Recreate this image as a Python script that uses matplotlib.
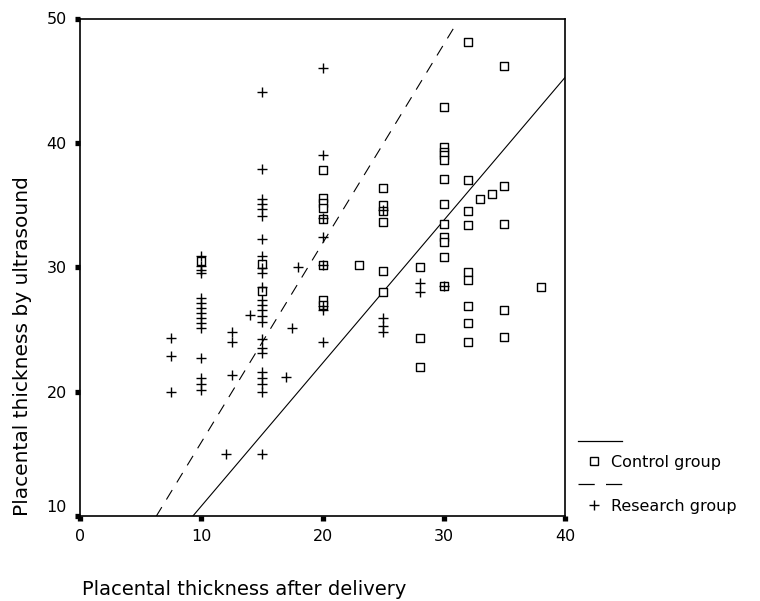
import numpy as np
import matplotlib
matplotlib.use("Agg")
import matplotlib.pyplot as plt
from matplotlib.lines import Line2D
from matplotlib.transforms import ScaledTranslation

plt.rcParams["font.family"] = ["DejaVu Sans"]

# Control group (squares)
control_x = [10, 15, 15,
             20, 20, 20, 20, 20, 20, 20, 20,
             23,
             25, 25, 25, 25, 25, 25,
             28, 28, 28,
             30, 30, 30, 30, 30, 30, 30, 30, 30, 30, 30, 30,
             32, 32, 32, 32, 32, 32, 32, 32, 32,
             33, 34,
             35, 35, 35, 35, 35,
             38]
control_y = [30.5, 30.3, 28.1,
             37.8, 35.6, 35.2, 34.8, 33.9, 30.2, 27.4, 27.0,
             30.2,
             36.4, 35.0, 34.5, 33.6, 29.7, 28.0,
             30.0, 24.3, 22.0,
             42.9, 39.7, 39.3, 39.0, 38.6, 37.1, 35.1, 33.5, 32.4, 32.0, 30.8, 28.5,
             48.1, 37.0, 34.5, 33.4, 29.6, 29.0, 26.9, 25.5, 24.0,
             35.5, 35.9,
             46.2, 36.5, 33.5, 26.6, 24.4,
             28.4]

# Research group (plus signs)
research_x = [7.5, 7.5, 7.5,
              10, 10, 10, 10, 10, 10, 10, 10, 10, 10, 10, 10, 10, 10, 10,
              12,
              12.5, 12.5, 12.5,
              14,
              15, 15, 15, 15, 15, 15, 15, 15, 15, 15, 15, 15, 15, 15, 15, 15,
              15, 15, 15, 15, 15, 15, 15, 15,
              17, 17.5, 18,
              20, 20, 20, 20, 20, 20, 20, 20,
              25, 25, 25, 25,
              28, 28,
              30]
research_y = [24.3, 22.9, 20.0,
              30.9, 30.1, 29.8, 29.5, 27.5, 27.1, 26.7, 26.3, 25.9, 25.5, 25.1, 22.7, 21.1, 20.6, 20.1,
              15.0,
              24.8, 24.0, 21.3,
              26.2,
              44.1, 37.9, 35.5, 35.1, 34.7, 34.1, 32.3, 30.9, 29.9, 29.5, 28.4, 27.4, 27.0, 26.6, 26.1, 25.6,
              24.2, 23.5, 23.1, 21.6, 21.1, 20.6, 20.0, 15.0,
              21.2, 25.1, 30.0,
              46.0, 39.0, 34.0, 32.4, 30.2, 26.9, 26.6, 24.0,
              34.6, 25.9, 25.3, 24.8,
              28.7, 28.0,
              28.5]

# fit lines (intercept, slope, x range drawn)
control_fit = (-0.70, 1.149, 0, 40)
research_fit = (-0.08, 1.600, 0, 30.8)

x_ticks = [0, 10, 20, 30, 40]
y_ticks = [10, 20, 30, 40, 50]

W, H = 760, 601
fig = plt.figure(figsize=(W / 100, H / 100), dpi=100)
ax = fig.add_axes([80 / W, 1 - 516 / H, 485 / W, 497.5 / H])

ax.scatter(control_x, control_y, marker="s", s=26, facecolors="white",
           edgecolors="black", linewidths=1.0, zorder=3)
ax.scatter(research_x, research_y, marker="+", s=55, c="black",
           linewidths=1.0, zorder=3)

xc = np.array(control_fit[2:])
ax.plot(xc, control_fit[0] + control_fit[1] * xc, color="black", lw=0.8)
xr = np.array(research_fit[2:])
ax.plot(xr, research_fit[0] + research_fit[1] * xr, color="black", lw=0.8,
        linestyle=(0, (10, 8)))

ax.set_xlim(0, 40)
ax.set_ylim(10, 50)
ax.set_xticks(x_ticks)
ax.set_yticks(y_ticks)
for sp in ax.spines.values():
    sp.set_linewidth(1.2)
ax.tick_params(direction="out", length=3.5, width=3.8, color="black",
               labelsize=11.5, pad=6)

# the lowest y label sits a little above its tick
fig.canvas.draw()
ax.get_yticklabels()[0].set_transform(
    ax.get_yticklabels()[0].get_transform()
    + ScaledTranslation(0, 10 / 100, fig.dpi_scale_trans))

ax.set_xlabel("Placental thickness after delivery", fontsize=14, loc="left")
ax.xaxis.set_label_coords(0.004, -0.128)
ax.set_ylabel("Placental thickness by ultrasound", fontsize=14.5, loc="bottom")
ax.yaxis.set_label_coords(-0.098, 0.0)

# legend, laid out like the original (line on one row, symbol + name below)
def px(x, y):
    return x / W, 1 - y / H

lx0, lx1 = 578, 622
fig.add_artist(Line2D([lx0 / W, lx1 / W], [1 - 440.5 / H] * 2,
                      color="black", lw=0.9))
fig.add_artist(Line2D([lx0 / W, lx1 / W], [1 - 483.5 / H] * 2,
                      color="black", lw=0.9, linestyle=(0, (13, 9))))
fig.add_artist(Line2D([594 / W], [1 - 461 / H], marker="s", markersize=5.5,
                      markerfacecolor="white", markeredgecolor="black",
                      markeredgewidth=1.0, linestyle="none"))
fig.add_artist(Line2D([594 / W], [1 - 505 / H], marker="+", markersize=7.5,
                      color="black", markeredgewidth=1.0, linestyle="none"))
fig.text(*px(611, 462), "Control group", fontsize=11.5, va="center", ha="left")
fig.text(*px(611, 506), "Research group", fontsize=11.5, va="center", ha="left")

fig.savefig("out.png", dpi=100)
